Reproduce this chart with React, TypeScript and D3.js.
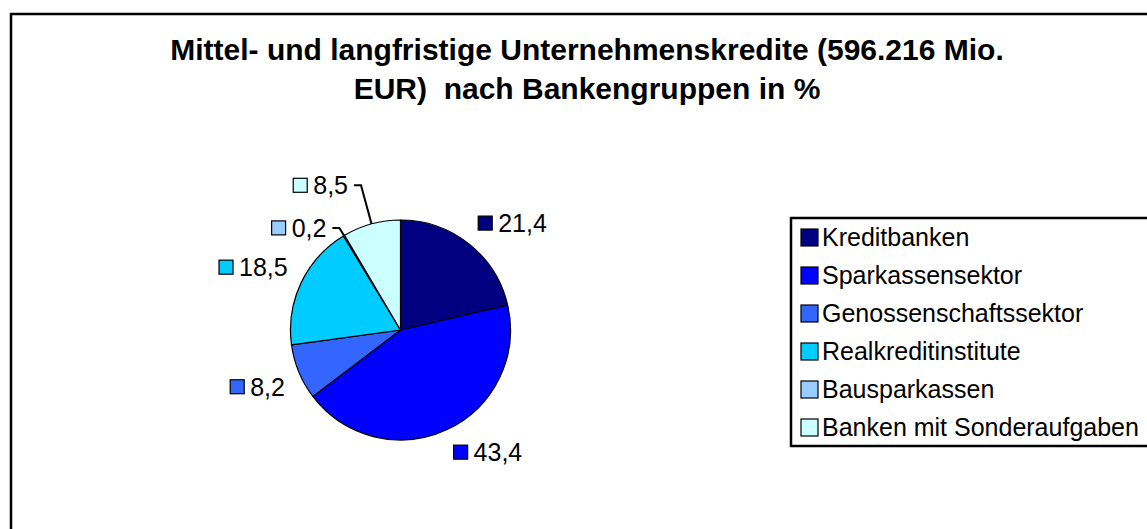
import React, { useEffect, useRef } from 'react';
import * as d3 from 'd3';

// Mittel- und langfristige Unternehmenskredite nach Bankengruppen (in %)
const groups = [
  'Kreditbanken',
  'Sparkassensektor',
  'Genossenschaftssektor',
  'Realkreditinstitute',
  'Bausparkassen',
  'Banken mit Sonderaufgaben',
];
const shares = [21.4, 43.4, 8.2, 18.5, 0.2, 8.5];
const labels = ['21,4', '43,4', '8,2', '18,5', '0,2', '8,5'];
const colors = ['#000080', '#0000FF', '#3366FF', '#00CCFF', '#99CCFF', '#CCFFFF'];
const titleLines = ['Mittel- und langfristige Unternehmenskredite (596.216 Mio.', 'EUR)  nach Bankengruppen in %'];

// small slices get a leader line out to this radius
const leaderRadius: Record<string, number> = {
  Bausparkassen: 119,
  'Banken mit Sonderaufgaben': 150,
};

const W = 1147;
const H = 529;
const FONT = '"Liberation Sans", Arial, sans-serif';

function draw(node: SVGSVGElement) {
  const svg = d3.select(node);
  svg.selectAll('*').remove();

  // outer chart frame (runs off the page right and bottom)
  svg.append('rect')
    .attr('x', 11).attr('y', 14)
    .attr('width', 1200).attr('height', 600)
    .attr('fill', '#fff')
    .attr('stroke', '#000').attr('stroke-width', 2.5);

  svg.append('g').selectAll('text')
    .data(titleLines)
    .enter().append('text')
    .attr('x', 587)
    .attr('y', (d, i) => 60 + i * 39)
    .attr('text-anchor', 'middle')
    .style('font', `bold 30px ${FONT}`)
    .style('white-space', 'pre')
    .text(d => d);

  const cx = 400.5, cy = 330, r = 110;
  const pie = d3.pie<number>().sort(null).value(d => d);
  const arcs = pie(shares);
  const arc = d3.arc<d3.PieArcDatum<number>>().innerRadius(0).outerRadius(r);

  const g = svg.append('g').attr('transform', `translate(${cx},${cy})`);
  g.selectAll('path')
    .data(arcs)
    .enter().append('path')
    .attr('d', arc)
    .attr('fill', (d, i) => colors[i])
    .attr('stroke', '#000')
    .attr('stroke-width', 1.2)
    .attr('stroke-linejoin', 'round');

  // data labels
  const sq = 14, gap = 6, boxH = 18, labelR = 125;
  arcs.forEach((a, i) => {
    const mid = (a.startAngle + a.endAngle) / 2;
    const sx = Math.sin(mid), sy = -Math.cos(mid);
    const lg = g.append('g');
    const txt = lg.append('text')
      .style('font', `25px ${FONT}`)
      .attr('dy', '0.36em')
      .text(labels[i]);
    const tw = (txt.node() as SVGTextElement).getComputedTextLength();
    const total = sq + gap + tw;
    let left: number, midY: number;
    const lr = leaderRadius[groups[i]];
    if (lr) {
      const ex = sx * lr, ey = sy * lr;
      g.append('path')
        .attr('d', `M${ex - 7},${ey}H${ex}L${sx * r},${sy * r}`)
        .attr('fill', 'none')
        .attr('stroke', '#000')
        .attr('stroke-width', 2);
      left = ex - 13 - total;
      midY = ey;
    } else {
      const px = sx * labelR, py = sy * labelR;
      left = sx >= 0 ? px : px - total;
      midY = sy <= 0 ? py - boxH / 2 : py + boxH / 2;
    }
    lg.insert('rect', 'text')
      .attr('x', left).attr('y', midY - sq / 2)
      .attr('width', sq).attr('height', sq)
      .attr('fill', colors[i])
      .attr('stroke', '#000').attr('stroke-width', 1.2);
    txt.attr('x', left + sq + gap).attr('y', midY);
  });

  // legend
  const lx = 791, ly = 218, rowH = 38;
  const legend = svg.append('g');
  legend.append('rect')
    .attr('x', lx).attr('y', ly)
    .attr('width', 400).attr('height', 228)
    .attr('fill', '#fff')
    .attr('stroke', '#000').attr('stroke-width', 2.5);
  const rows = legend.selectAll('g.row')
    .data(groups)
    .enter().append('g')
    .attr('class', 'row')
    .attr('transform', (d, i) => `translate(${lx + 10},${ly + 19 + i * rowH})`);
  rows.append('rect')
    .attr('x', 0).attr('y', -8)
    .attr('width', 17).attr('height', 17)
    .attr('fill', (d, i) => colors[i])
    .attr('stroke', '#000').attr('stroke-width', 1.2);
  rows.append('text')
    .attr('x', 21).attr('dy', '0.36em')
    .style('font', `25px ${FONT}`)
    .text(d => d);
}

export default function App() {
  const ref = useRef<SVGSVGElement>(null);
  useEffect(() => {
    if (ref.current) draw(ref.current);
  }, []);
  return (
    <svg
      ref={ref}
      width={W}
      height={H}
      style={{ position: 'absolute', left: 0, top: 0, background: '#fff' }}
    />
  );
}
